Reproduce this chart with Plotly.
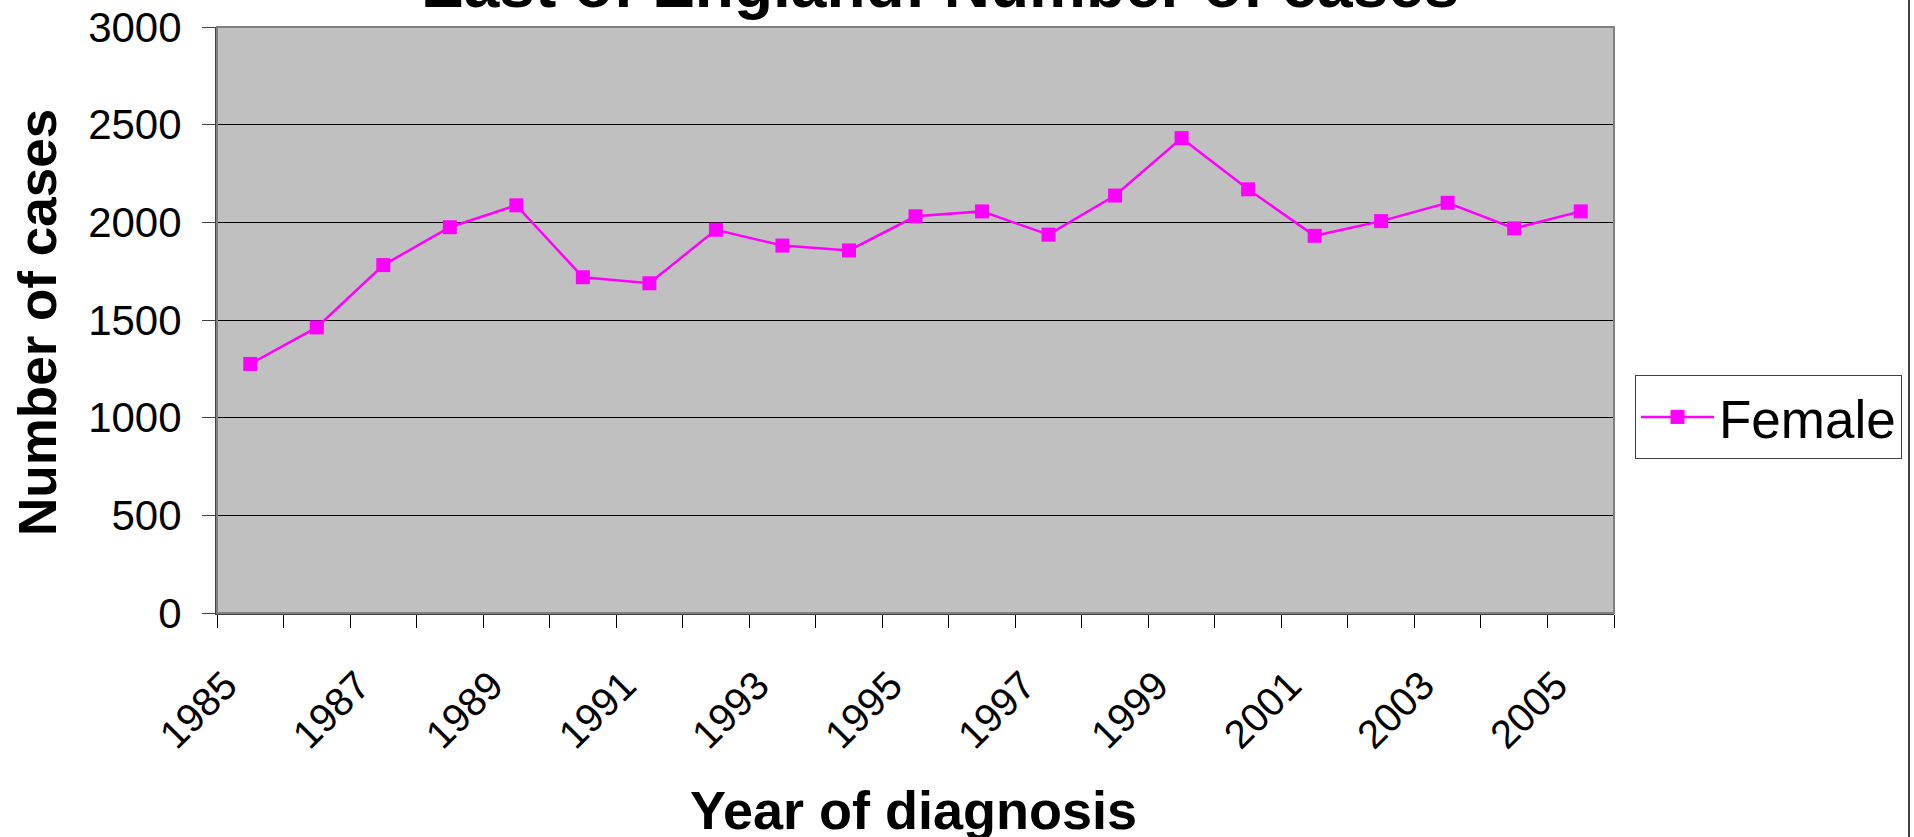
import plotly.graph_objects as go

years = list(range(1985, 2006))
female = [1275, 1462, 1781, 1975, 2087, 1719, 1688, 1962, 1881, 1856,
          2031, 2056, 1937, 2137, 2431, 2169, 1931, 2006, 2100, 1969, 2056]
label_years = years[::2]
y_ticks = [0, 500, 1000, 1500, 2000, 2500, 3000]

title_text = "East of England: Number of cases"
x_title = "Year of diagnosis"
y_title = "Number of cases"
series_name = "Female"

FONT = "Liberation Sans, Arial, sans-serif"
W, H = 1914, 837
L, T = 217, 27
pw, ph = 1397, 586
R, B = W - L - pw, H - T - ph


def px(xfull):
    return (xfull - L) / pw


def py(yfull):
    return (T + ph - yfull) / ph


boundaries = [y - 0.5 for y in years] + [years[-1] + 0.5]

fig = go.Figure()
fig.add_trace(go.Scatter(
    x=years, y=female, name=series_name, mode="lines+markers",
    line=dict(color="#FF00FF", width=2.5),
    marker=dict(symbol="square", size=14, color="#FF00FF"),
))

fig.update_layout(
    width=W, height=H,
    margin=dict(l=L, r=R, t=T, b=B, pad=0, autoexpand=False),
    paper_bgcolor="white", plot_bgcolor="#C0C0C0",
    font=dict(family=FONT, size=40, color="black"),
    showlegend=True,
    legend=dict(
        x=px(1635), y=py(375), xanchor="left", yanchor="top",
        bgcolor="white", bordercolor="#404040", borderwidth=1,
        itemwidth=73,
        font=dict(family=FONT, size=53, color="black"),
    ),
    xaxis=dict(
        range=[boundaries[0], boundaries[-1]], automargin=False,
        tickmode="array", tickvals=label_years, ticktext=[str(v) for v in label_years],
        tickangle=-45, ticks="outside", ticklen=13, tickcolor="rgba(0,0,0,0)",
        ticklabelshift=-25, ticklabelstandoff=18, ticklabeloverflow="allow",
        showgrid=False, zeroline=False,
        showline=True, linecolor="#404040", linewidth=2,
        tickfont=dict(family=FONT, size=40, color="black"),
        minor=dict(tickmode="array", tickvals=boundaries, ticks="outside",
                   ticklen=13, tickcolor="black", tickwidth=1, showgrid=False),
    ),
    yaxis=dict(
        range=[0, 3000], tickmode="array", tickvals=y_ticks, automargin=False,
        ticks="outside", ticklen=13, tickcolor="#404040", tickwidth=1,
        showgrid=True, gridcolor="black", gridwidth=1, zeroline=False,
        showline=True, linecolor="#404040", linewidth=2,
        tickfont=dict(family=FONT, size=42, color="black"),
        ticklabelstandoff=12, ticklabeloverflow="allow",
    ),
    shapes=[
        dict(type="rect", xref="paper", yref="paper", x0=0, x1=1, y0=0, y1=1,
             line=dict(color="#808080", width=2), layer="above"),
        dict(type="line", xref="paper", yref="paper",
             x0=px(1909), x1=px(1909), y0=py(850), y1=py(-10),
             line=dict(color="#404040", width=2)),
    ],
    annotations=[
        dict(text="<b>" + title_text + "</b>", xref="paper", yref="paper",
             x=px(940), y=1, xanchor="center", yanchor="bottom", yshift=4,
             showarrow=False, font=dict(family=FONT, size=64, color="black")),
        dict(text="<b>" + x_title + "</b>", xref="paper", yref="paper",
             x=px(913), y=py(810), xanchor="center", yanchor="middle",
             showarrow=False, font=dict(family=FONT, size=54, color="black")),
        dict(text="<b>" + y_title + "</b>", xref="paper", yref="paper",
             x=px(37), y=py(323), xanchor="center", yanchor="middle",
             textangle=-90, showarrow=False, font=dict(family=FONT, size=53, color="black")),
    ],
)

fig.write_html("out.html", config={"displayModeBar": False},
               post_script="document.body.style.margin='0';")
